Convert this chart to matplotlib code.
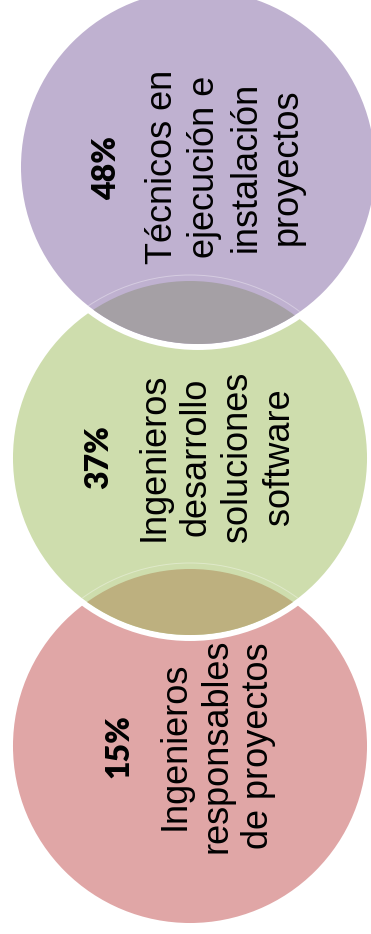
import matplotlib
matplotlib.use("Agg")
import matplotlib.pyplot as plt
from matplotlib.patches import Circle

# datos de la figura (de arriba hacia abajo)
porcentajes = ["48%", "37%", "15%"]
perfiles = [
    "Técnicos en\nejecución e\ninstalación\nproyectos",
    "Ingenieros\ndesarrollo\nsoluciones\nsoftware",
    "Ingenieros\nresponsables\nde proyectos",
]
colores = ["#BFB1D0", "#CEDDAD", "#E0A6A6"]
colores_cruce = ["#A5A0A5", "#BDB07F"]  # morado-verde, verde-rojo

# posiciones en pixeles (y hacia abajo)
centros = [(198, 167), (190, 458), (190, 746)]
R = 180
R_vis = 177
pos_pct = [(107, 168), (99, 457), (119, 746)]
pos_txt = [(225, 167), (217, 457), (217, 746)]

fig = plt.figure(figsize=(3.71, 9.34), dpi=100)
ax = fig.add_axes([0, 0, 1, 1])
ax.set_xlim(0, 371)
ax.set_ylim(934, 0)
ax.set_aspect("equal")
ax.axis("off")

# circulos: el de abajo primero
for i in [2, 1, 0]:
    c = Circle(centros[i], R, facecolor=colores[i], edgecolor="white",
               linewidth=4.3, zorder=2 + (2 - i))
    ax.add_patch(c)

# zonas de cruce
for k in range(2):
    arriba = centros[k]
    abajo = centros[k + 1]
    clip = Circle(arriba, R_vis, transform=ax.transData)
    lente = Circle(abajo, R_vis, facecolor=colores_cruce[k], edgecolor="none", zorder=6)
    ax.add_patch(lente)
    lente.set_clip_path(clip)
    linea = Circle(abajo, R + 3, fill=False, edgecolor="white", alpha=0.35,
                   linewidth=0.7, zorder=6)
    ax.add_patch(linea)
    linea.set_clip_path(Circle(arriba, R_vis, transform=ax.transData))

for i in range(3):
    ax.text(pos_pct[i][0], pos_pct[i][1], porcentajes[i], rotation=90,
            ha="center", va="center", fontsize=23, fontweight="heavy",
            family=["Lato", "DejaVu Sans"], color="black", zorder=10)
    ax.text(pos_txt[i][0], pos_txt[i][1], perfiles[i], rotation=90,
            ha="center", va="center", multialignment="center", fontsize=26,
            family=["Liberation Sans", "DejaVu Sans"], linespacing=1.25,
            color="black", zorder=10)

fig.savefig("out.png", dpi=100, facecolor="white")
